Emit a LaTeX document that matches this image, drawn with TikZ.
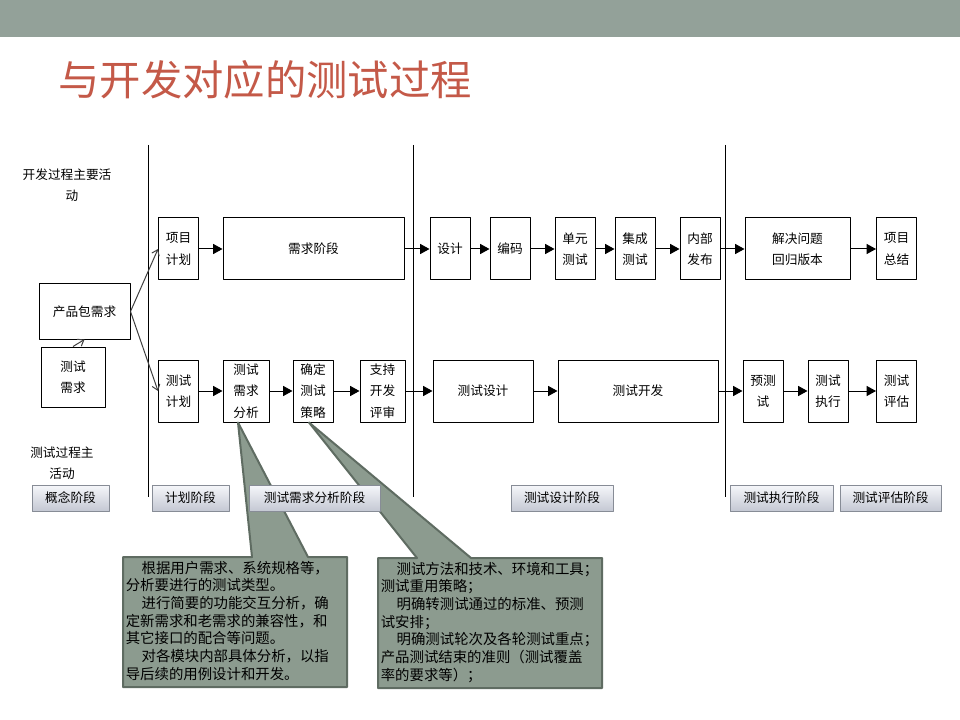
\documentclass[tikz,border=0pt]{standalone}
\usepackage{fontspec}
\setmainfont{Noto Sans CJK SC}
\usetikzlibrary{arrows.meta}
\definecolor{barbg}{RGB}{147,161,153}
\definecolor{titlered}{RGB}{196,89,72}
\definecolor{notefill}{RGB}{140,155,143}
\definecolor{noteline}{RGB}{95,108,98}
\definecolor{phasetop}{RGB}{246,247,250}
\definecolor{phasebot}{RGB}{196,200,211}
\definecolor{phaseline}{RGB}{135,140,150}
\newcommand{\boxfont}{\fontsize{9.5pt}{16pt}\selectfont}
\newcommand{\notefont}{\fontsize{10.8pt}{13.3pt}\selectfont}
\tikzstyle{every picture}+=[x=0.75pt,y=-0.75pt]
\tikzstyle{every picture}+=[>={Triangle[length=7pt,width=7.5pt]}]
\tikzstyle{every picture}+=[line width=0.75pt]
\tikzstyle{every picture}+=[join=round]
\tikzstyle{act}=[draw,font=\boxfont,align=center,inner sep=1pt,minimum width=30pt,minimum height=46.5pt]
\tikzstyle{phase}=[draw=phaseline,top color=phasetop,bottom color=phasebot,font=\boxfont,minimum height=19.5pt,inner sep=1pt]
\tikzstyle{lbl}=[font=\boxfont,align=center,inner sep=1pt]
\tikzstyle{note}=[draw=noteline,fill=notefill,line width=1.5pt]
\tikzstyle{notetext}=[font=\notefont,align=left,anchor=north west,inner sep=1pt]
\tikzstyle{feed}=[->,>={Straight Barb[length=4pt,width=6pt]},black!75]

\begin{document}
\begin{tikzpicture}
\fill[white] (0,0) rectangle (960,720);
\fill[barbg] (0,0) rectangle (960,37);
\node[anchor=west,text=titlered,font=\fontsize{31pt}{31pt}\selectfont,inner sep=0pt] (title) at (58,80) {与开发对应的测试过程};

% phase borders
\foreach \x in {148,413,725}
  \draw (\x,145) -- (\x,497);

\node[lbl] (devlbl) at (67,185) {开发过程主要活\\\hspace*{0.8em}动};
\node[lbl] (testlbl) at (62,463) {测试过程主\\活动};

% development row
\node[act] (plan) at (178.5,249) {项目\\计划};
\node[act,minimum width=135.75pt] (reqs) at (313.5,249) {需求阶段};
\node[act] (design) at (450,249) {设计};
\node[act] (code) at (510,249) {编码};
\node[act] (unit) at (575,249) {单元\\测试};
\node[act] (integ) at (635,249) {集成\\测试};
\node[act] (release) at (700,249) {内部\\发布};
\node[act,minimum width=78.75pt] (fix) at (797.5,249) {解决问题\\回归版本};
\node[act] (summary) at (896.5,249) {项目\\总结};

% test row
\node[act] (tplan) at (178.5,391) {测试\\计划};
\node[act,minimum width=34.5pt] (tanalysis) at (246,391) {测试\\需求\\分析};
\node[act] (tstrategy) at (313,391) {确定\\测试\\策略};
\node[act,minimum width=33.75pt] (treview) at (382.5,391) {支持\\开发\\评审};
\node[act,minimum width=75pt] (tdesign) at (483,391) {测试设计};
\node[act,minimum width=120pt] (tdev) at (638,391) {测试开发};
\node[act] (pretest) at (763,391) {预测\\试};
\node[act] (texec) at (828,391) {测试\\执行};
\node[act] (teval) at (896.5,391) {测试\\评估};

% inputs
\node[act,minimum width=68.25pt,minimum height=41.25pt] (pkgreq) at (84.5,311.5) {产品包需求};
\node[act,minimum width=48pt,minimum height=45pt] (testreq) at (73,377) {测试\\需求};

\draw[feed] (testreq.north) -- (pkgreq.south);
\draw[feed] (pkgreq.east) -- (plan.west);
\draw[feed] (pkgreq.east) -- (tplan.west);

\draw[->] (plan) -- (reqs);
\draw[->] (reqs) -- (design);
\draw[->] (design) -- (code);
\draw[->] (code) -- (unit);
\draw[->] (unit) -- (integ);
\draw[->] (integ) -- (release);
\draw[->] (release) -- (fix);
\draw[->] (fix) -- (summary);

\draw[->] (tplan) -- (tanalysis);
\draw[->] (tanalysis) -- (tstrategy);
\draw[->] (tstrategy) -- (treview);
\draw[->] (treview) -- (tdesign);
\draw[->] (tdesign) -- (tdev);
\draw[->] (tdev) -- (pretest);
\draw[->] (pretest) -- (texec);
\draw[->] (texec) -- (teval);

% callouts
\coordinate (tipA) at ([xshift=-6pt]tanalysis.south);
\coordinate (tipB) at ([xshift=-3pt]tstrategy.south);
\draw[note] (123,557) -- (252,557) -- (tipA) -- (308,557) -- (347,557) -- (347,687) -- (123,687) -- cycle;
\draw[note] (378,558) -- (417,558) -- (tipB) -- (471,558) -- (602,558) -- (602,688) -- (378,688) -- cycle;
\node[notetext] (noteA) at (124,559) {\hspace*{1.1em}根据用户需求、系统规格等，\\分析要进行的测试类型。\\\hspace*{1.1em}进行简要的功能交互分析，确\\定新需求和老需求的兼容性，和\\其它接口的配合等问题。\\\hspace*{1.1em}对各模块内部具体分析，以指\\导后续的用例设计和开发。};
\node[notetext] (noteB) at (379,560) {\hspace*{1.1em}测试方法和技术、环境和工具；\\测试重用策略；\\\hspace*{1.1em}明确转测试通过的标准、预测\\试安排；\\\hspace*{1.1em}明确测试轮次及各轮测试重点；\\产品测试结束的准则（测试覆盖\\率的要求等）；};

% phases
\node[phase,minimum width=57.75pt] (concept) at (70.5,498) {概念阶段};
\node[phase,minimum width=57.75pt] (planph) at (190.5,498) {计划阶段};
\node[phase,minimum width=98.25pt] (anaph) at (314.5,498) {测试需求分析阶段};
\node[phase,minimum width=76.5pt] (desph) at (562,498) {测试设计阶段};
\node[phase,minimum width=77.25pt] (execph) at (781.5,498) {测试执行阶段};
\node[phase,minimum width=75.75pt] (evalph) at (890.5,498) {测试评估阶段};
\end{tikzpicture}
\end{document}
